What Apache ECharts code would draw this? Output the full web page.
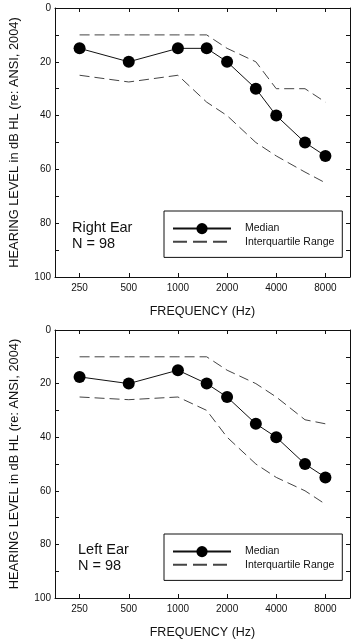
<!DOCTYPE html>
<html>
<head>
<meta charset="utf-8">
<script src="https://cdn.jsdelivr.net/npm/echarts@6/dist/echarts.min.js"></script>
<style>
html,body{margin:0;padding:0;background:#fff;}
#chart{width:354px;height:643px;}
</style>
</head>
<body>
<div id="chart"></div>
<script>
// frequencies (Hz) tested, incl. half-octave points
var freqs = [250, 500, 1000, 1500, 2000, 3000, 4000, 6000, 8000];
var freqLabels = [250, 500, 1000, 2000, 4000, 8000];

// right ear, dB HL
var rightMedian = [15, 20, 15, 15, 20, 30, 40, 50, 55];
var rightQ1 = [10, 10, 10, 10, 15, 20, 30, 30, 35];
var rightQ3 = [25, 27.5, 25, 35, 40, 50, 55, 61, 65];

// left ear, dB HL
var leftMedian = [17.5, 20, 15, 20, 25, 35, 40, 50, 55];
var leftQ1 = [10, 10, 10, 10, 15, 20, 25, 33.5, 35];
var leftQ3 = [25, 26, 25, 30, 40, 50, 55, 60, 65];

var yLabels = [0, 20, 40, 60, 80, 100];

function oct(f){ return Math.log2(f/250); }
function pts(vals){
	return freqs.map(function(f,i){ return [oct(f), vals[i]]; });
}

var font = 'Liberation Sans, Arial, sans-serif';
var chart = echarts.init(document.getElementById('chart'));

var grids = [
	{left:49, top:8, width:301, height:269},
	{left:49, top:330, width:301, height:268}
];

var xAxes = [], yAxes = [];
[0,1].forEach(function(g){
	var tickVals = freqLabels.map(oct);
	xAxes.push({
		type:'value', gridIndex:g, min:-0.5, max:5.5, position:'bottom',
		name:'FREQUENCY (Hz)', nameLocation:'middle', nameGap:28,
		nameTextStyle:{fontFamily:font, fontSize:12.5, color:'#111'},
		axisLine:{show:true, onZero:false, lineStyle:{color:'#111', width:1}},
		axisTick:{inside:true, length:4, customValues:tickVals, lineStyle:{color:'#111'}},
		axisLabel:{customValues:tickVals, margin:6, fontFamily:font, fontSize:10, color:'#111',
			formatter:function(v){ return String(Math.round(250*Math.pow(2,v))); }},
		splitLine:{show:false}
	});
	xAxes.push({
		type:'value', gridIndex:g, min:-0.5, max:5.5, position:'top',
		axisLine:{show:true, onZero:false, lineStyle:{color:'#111', width:1}},
		axisTick:{inside:true, length:4, customValues:tickVals, lineStyle:{color:'#111'}},
		axisLabel:{show:false}, splitLine:{show:false}
	});
	yAxes.push({
		type:'value', gridIndex:g, min:0, max:100, interval:10, inverse:true, position:'left',
		name:'HEARING LEVEL in dB HL (re: ANSI, 2004)', nameLocation:'middle', nameGap:34,
		nameTextStyle:{fontFamily:font, fontSize:12.8, color:'#111'},
		axisLine:{show:true, onZero:false, lineStyle:{color:'#111', width:1}},
		axisTick:{inside:true, length:4, lineStyle:{color:'#111'}},
		axisLabel:{customValues:yLabels, margin:4, fontFamily:font, fontSize:10, color:'#111'},
		splitLine:{show:false}
	});
	yAxes.push({
		type:'value', gridIndex:g, min:0, max:100, interval:10, inverse:true, position:'right',
		axisLine:{show:true, onZero:false, lineStyle:{color:'#111', width:1}},
		axisTick:{inside:true, length:4, lineStyle:{color:'#111'}},
		axisLabel:{show:false}, splitLine:{show:false}
	});
});

function medianSeries(g, vals){
	return {
		name:'Median', type:'line', xAxisIndex:g*2, yAxisIndex:g*2,
		data:pts(vals), symbol:'circle', symbolSize:12,
		itemStyle:{color:'#000'}, lineStyle:{color:'#111', width:1},
		animation:false, z:3
	};
}
function iqrSeries(g, vals){
	return {
		name:'Interquartile Range', type:'line', xAxisIndex:g*2, yAxisIndex:g*2,
		data:pts(vals), symbol:'none', showSymbol:false,
		itemStyle:{color:'#444'},
		lineStyle:{color:'#444', width:1, type:[10,5]},
		animation:false, z:2
	};
}

function legendAt(top){
	return {
		left:164, top:top, orient:'vertical',
		padding:[12,8,10,8], itemWidth:58, itemHeight:14, itemGap:2,
		borderColor:'#111', borderWidth:1,
		selectedMode:false,
		data:[
			{name:'Median'},
			{name:'Interquartile Range', itemStyle:{opacity:0}, lineStyle:{type:[14,6]}}
		],
		textStyle:{fontFamily:font, fontSize:10.5, color:'#111', padding:[0,0,0,9]}
	};
}

chart.setOption({
	animation:false,
	backgroundColor:'#fff',
	grid:grids,
	xAxis:xAxes,
	yAxis:yAxes,
	legend:[legendAt(211), legendAt(534)],
	title:[
		{text:'Right Ear\nN = 98', left:67, top:215,
			textStyle:{fontFamily:font, fontSize:14.5, fontWeight:'normal', color:'#111', lineHeight:16}},
		{text:'Left Ear\nN = 98', left:73, top:537,
			textStyle:{fontFamily:font, fontSize:14.5, fontWeight:'normal', color:'#111', lineHeight:16}}
	],
	series:[
		medianSeries(0, rightMedian), iqrSeries(0, rightQ1), iqrSeries(0, rightQ3),
		medianSeries(1, leftMedian), iqrSeries(1, leftQ1), iqrSeries(1, leftQ3)
	]
});
</script>
</body>
</html>
